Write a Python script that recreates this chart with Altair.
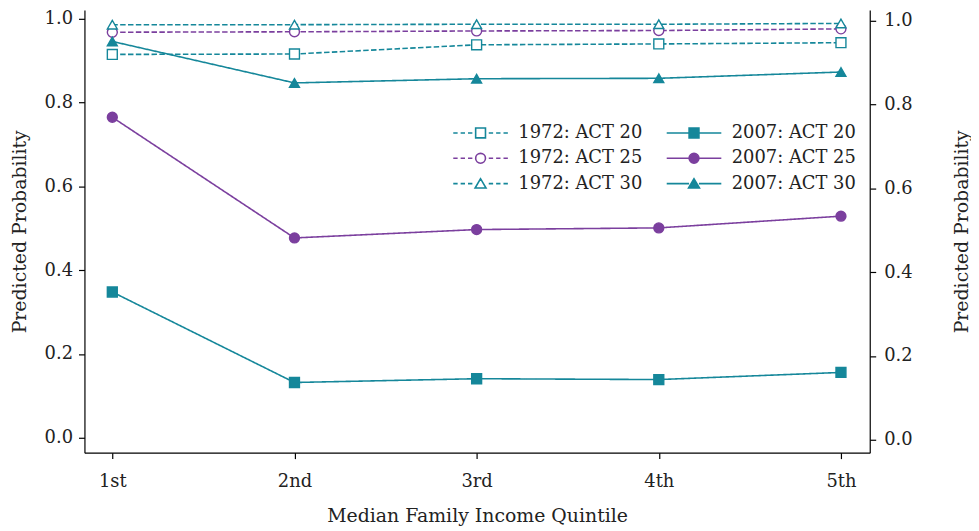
import altair as alt
import pandas as pd

# ---- data ----
quintiles = [1, 2, 3, 4, 5]
quintile_labels = ["1st", "2nd", "3rd", "4th", "5th"]

series_names = ["1972: ACT 20", "1972: ACT 25", "1972: ACT 30",
                "2007: ACT 20", "2007: ACT 25", "2007: ACT 30"]
y1972_act20 = [0.915, 0.916, 0.938, 0.940, 0.943]
y1972_act25 = [0.968, 0.969, 0.971, 0.972, 0.976]
y1972_act30 = [0.986, 0.986, 0.987, 0.987, 0.989]
y2007_act20 = [0.348, 0.132, 0.141, 0.139, 0.156]
y2007_act25 = [0.765, 0.477, 0.497, 0.501, 0.529]
y2007_act30 = [0.946, 0.847, 0.857, 0.858, 0.873]
series_values = [y1972_act20, y1972_act25, y1972_act30,
                 y2007_act20, y2007_act25, y2007_act30]

y_ticks = [0.0, 0.2, 0.4, 0.6, 0.8, 1.0]

TEAL = "#15879a"
PURPLE = "#7b3f9e"
FONT = "DejaVu Serif"
TEXT = "#222222"

series_colors = [TEAL, PURPLE, TEAL, TEAL, PURPLE, TEAL]
series_fills = ["white", "white", "white", TEAL, PURPLE, TEAL]
series_shapes = ["square", "circle", "triangle-up", "square", "circle", "triangle-up"]
series_dashes = [[5.5, 2.4], [5.5, 2.4], [5.5, 2.4], [1, 0], [1, 0], [1, 0]]

rows = []
for name, vals in zip(series_names, series_values):
    for q, v in zip(quintiles, vals):
        rows.append({"q": q, "p": v, "series": name})
df = pd.DataFrame(rows)

# ---- legend symbols: line sample + marker as one path ----
dashed = "M-5,0H-4.2M-3.65,0H-2.85M-2.3,0H-1.5M1.5,0H2.3M2.85,0H3.65M4.2,0H5"
solid = "M-5,0H-0.9M0.9,0H5"
sq = "M-0.9,-0.9H0.9V0.9H-0.9Z"
ci = "M0.9,0A0.9,0.9,0,1,1,-0.9,0A0.9,0.9,0,1,1,0.9,0Z"
tr = "M0,-0.9L-1,0.8L1,0.8Z"
legend_paths_by_series = {
    "1972: ACT 20": dashed + sq, "1972: ACT 25": dashed + ci, "1972: ACT 30": dashed + tr,
    "2007: ACT 20": solid + sq, "2007: ACT 25": solid + ci, "2007: ACT 30": solid + tr,
}
legend_order = ["1972: ACT 20", "2007: ACT 20", "1972: ACT 25",
                "2007: ACT 25", "1972: ACT 30", "2007: ACT 30"]
idx = {n: i for i, n in enumerate(series_names)}
legend_paths = [legend_paths_by_series[n] for n in legend_order]
legend_strokes = [series_colors[idx[n]] for n in legend_order]
legend_fills = [series_fills[idx[n]] for n in legend_order]

label_js = "[" + ",".join("'%s'" % s for s in quintile_labels) + "]"

x_enc = alt.X(
    "q:Q",
    scale=alt.Scale(domain=[0.847, 5.158], nice=False, zero=False),
    axis=alt.Axis(values=quintiles, labelExpr=label_js + "[datum.value-1]",
                  title="Median Family Income Quintile", grid=False,
                  tickSize=6, labelPadding=14, titlePadding=16),
)
left_dom = [-0.0355, 1.0213]
right_dom = [-0.0308, 1.0261]

lines = alt.Chart(df).mark_line(strokeWidth=1.6).encode(
    x=x_enc,
    y=alt.Y("p:Q", scale=alt.Scale(domain=left_dom, nice=False, zero=False),
            axis=alt.Axis(values=y_ticks, format=".1f", title="Predicted Probability",
                          grid=False, tickSize=6, labelPadding=6, titlePadding=15)),
    color=alt.Color("series:N", scale=alt.Scale(domain=series_names, range=series_colors), legend=None),
    strokeDash=alt.StrokeDash("series:N", scale=alt.Scale(domain=series_names, range=series_dashes), legend=None),
)

points = alt.Chart(df).mark_point(size=100, strokeWidth=1.4, opacity=1).encode(
    x=alt.X("q:Q"),
    y=alt.Y("p:Q", scale=alt.Scale(domain=left_dom, nice=False, zero=False), axis=None),
    shape=alt.Shape("series:N", scale=alt.Scale(domain=series_names, range=series_shapes), legend=None),
    stroke=alt.Stroke("series:N", scale=alt.Scale(domain=series_names, range=series_colors), legend=None),
    fill=alt.Fill("series:N", scale=alt.Scale(domain=series_names, range=series_fills), legend=None),
)

leg = alt.Legend(
    title=None, orient="none", legendX=390, legendY=115, columns=2,
    direction="horizontal", padding=0,
    labelFont=FONT, labelFontSize=18, labelColor=TEXT, labelOffset=29,
    symbolSize=121, symbolStrokeWidth=1.6, symbolOpacity=1,
    columnPadding=21, rowPadding=7.5, labelLimit=300,
)
legend_layer = alt.Chart(df).mark_point(opacity=0, size=121).encode(
    x=alt.X("q:Q"),
    y=alt.Y("p:Q", scale=alt.Scale(domain=left_dom, nice=False, zero=False), axis=None),
    shape=alt.Shape("series:N", scale=alt.Scale(domain=legend_order, range=legend_paths), legend=leg),
    stroke=alt.Stroke("series:N", scale=alt.Scale(domain=legend_order, range=legend_strokes), legend=leg),
    fill=alt.Fill("series:N", scale=alt.Scale(domain=legend_order, range=legend_fills), legend=leg),
)

right_axis = alt.Chart(df).mark_point(opacity=0).encode(
    x=alt.X("q:Q"),
    y=alt.Y("p:Q", scale=alt.Scale(domain=right_dom, nice=False, zero=False),
            axis=alt.Axis(orient="right", values=y_ticks, format=".1f",
                          title="Predicted Probability", titleAngle=270,
                          grid=False, tickSize=6, labelPadding=8, titlePadding=60)),
)

chart = alt.layer(lines, points, legend_layer, right_axis).resolve_scale(
    y="independent", shape="independent", stroke="independent", fill="independent"
).properties(
    width=791, height=446,
    autosize=alt.AutoSizeParams(type="none"),
    padding={"left": 77, "top": 0, "right": 102, "bottom": 77},
).configure_view(stroke=None).configure_axis(
    labelFont=FONT, titleFont=FONT, labelFontSize=18, titleFontSize=19,
    labelColor=TEXT, titleColor=TEXT, titleFontWeight="normal",
    domainColor="#000000", tickColor="#000000", domainWidth=1.2, tickWidth=1.2,
)

chart.save("out.html", embed_options={"renderer": "svg", "actions": False})
